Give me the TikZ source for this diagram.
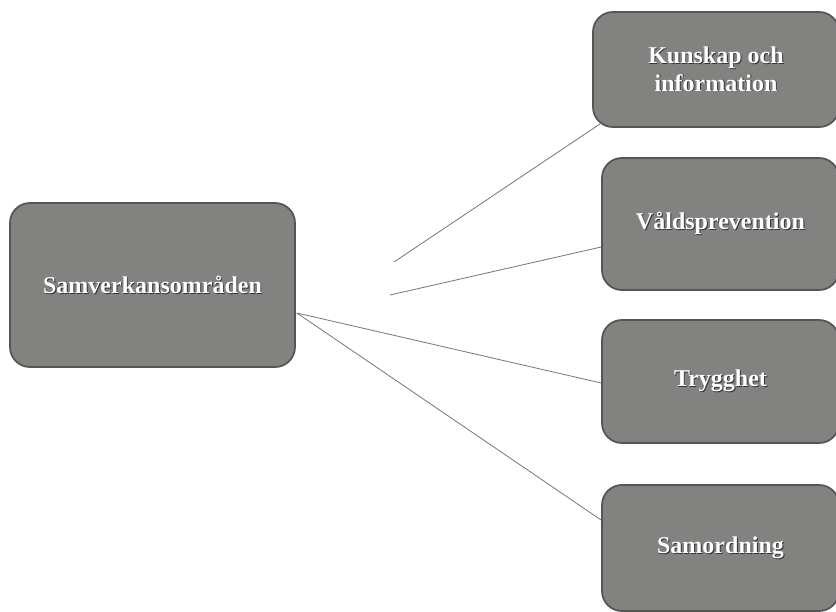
\documentclass[tikz,border=0pt]{standalone}
\usepackage{fontspec}
\setmainfont{Liberation Serif}
\usetikzlibrary{calc}
\definecolor{feldgrau}{RGB}{130,130,128}
\definecolor{randgrau}{RGB}{85,85,83}
\definecolor{liniengrau}{RGB}{120,120,120}
\newcommand{\schatten}[1]{\makebox[0pt][l]{\hspace{0.8pt}\raisebox{-0.8pt}{\color{black!80}#1}}#1}

\begin{document}
\begin{tikzpicture}[x=0.03cm,y=-0.03cm,
feld/.style={draw=randgrau,line width=1.5pt,fill=feldgrau,rounded corners=17pt,text=white,font=\bfseries\fontsize{20.5}{23.5}\selectfont,align=center,inner sep=0pt},
linie/.style={draw=liniengrau,line width=0.7pt}]
\def\px{0.03cm}
\useasboundingbox (0,0) rectangle (836,611);
\node[feld,minimum width=285*\px,minimum height=164*\px] (omr) at (152.5,285) {\schatten{Samverkansområden}};
\node[feld,minimum width=246*\px,minimum height=115*\px] (kun) at (716,69.5) {\schatten{Kunskap och}\\\schatten{information}};
\node[feld,minimum width=237*\px,minimum height=132*\px] (vald) at (720.5,224) {\schatten{Våldsprevention}};
\node[feld,minimum width=237*\px,minimum height=123*\px] (tryg) at (720.5,381.5) {\schatten{Trygghet}};
\node[feld,minimum width=237*\px,minimum height=126*\px] (sam) at (720.5,548) {\schatten{Samordning}};
\coordinate (omrA) at ($(omr.east)+(1,28)$);
\coordinate (frei1) at (394,262);
\coordinate (frei2) at (390,295);
\draw[linie] (frei1) -- ($(kun.south west)+(8,-4)$);
\draw[linie] (frei2) -- ($(vald.west)+(0,23)$);
\draw[linie] (omrA) -- ($(tryg.west)+(0,1.5)$);
\draw[linie] (omrA) -- ($(sam.west)+(0,-28)$);
\end{tikzpicture}
\end{document}
